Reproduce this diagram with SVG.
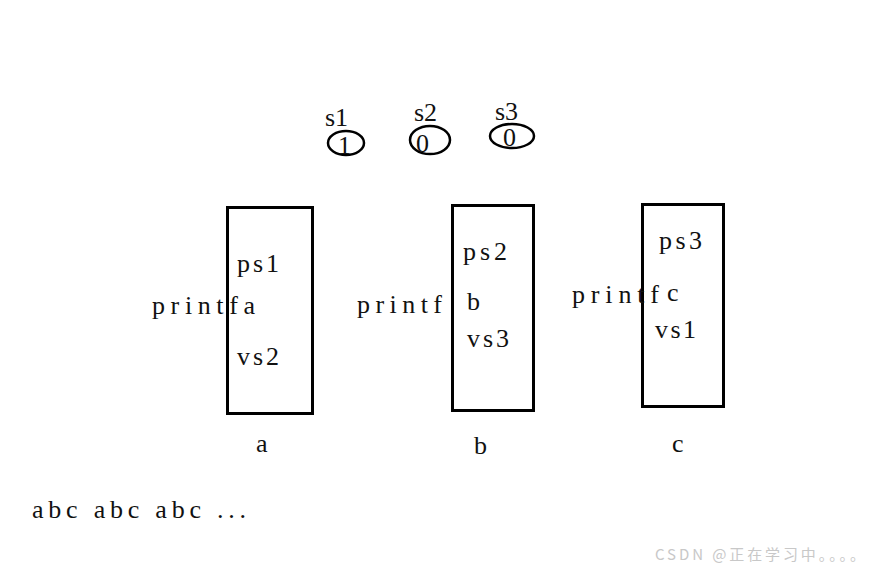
<svg xmlns="http://www.w3.org/2000/svg" width="875" height="570" viewBox="0 0 875 570">
<style>
.t{font-family:"Liberation Serif","DejaVu Serif",serif;font-size:26px;fill:#111}
.box{fill:none;stroke:#000;stroke-width:3}
.ell{fill:none;stroke:#000;stroke-width:2.5}
.wm{font-family:"Noto Sans CJK SC","Noto Sans",sans-serif;font-size:15px;fill:#c8c8c8}
</style>
<rect width="875" height="570" fill="#fff"/>
<g id="sem1">
<text class="t" x="325" y="126">s1</text>
<ellipse class="ell" cx="346" cy="143" rx="18" ry="12"/>
<text class="t" x="338" y="154">1</text>
</g>
<g id="sem2">
<text class="t" x="414" y="121">s2</text>
<ellipse class="ell" cx="430" cy="140" rx="20" ry="14"/>
<text class="t" x="416" y="152">0</text>
</g>
<g id="sem3">
<text class="t" x="495" y="120">s3</text>
<ellipse class="ell" cx="512" cy="136" rx="22" ry="12"/>
<text class="t" x="503" y="146">0</text>
</g>
<g id="threadA">
<rect class="box" x="227.5" y="207.5" width="85" height="206"/>
<text class="t" x="237" y="272" textLength="42" lengthAdjust="spacing">ps1</text>
<text class="t" x="152" y="314" textLength="103" lengthAdjust="spacing">printfa</text>
<text class="t" x="237" y="365" textLength="42" lengthAdjust="spacing">vs2</text>
<text class="t" x="256" y="452">a</text>
</g>
<g id="threadB">
<rect class="box" x="452.5" y="205.5" width="81" height="205"/>
<text class="t" x="463" y="260" textLength="44" lengthAdjust="spacing">ps2</text>
<text class="t" x="357" y="313" textLength="85" lengthAdjust="spacing">printf</text>
<text class="t" x="467" y="310">b</text>
<text class="t" x="467" y="347" textLength="42" lengthAdjust="spacing">vs3</text>
<text class="t" x="474" y="454">b</text>
</g>
<g id="threadC">
<rect class="box" x="642.5" y="204.5" width="81" height="202"/>
<text class="t" x="659" y="249" textLength="43" lengthAdjust="spacing">ps3</text>
<text class="t" x="572" y="303" textLength="87" lengthAdjust="spacing">printf</text>
<text class="t" x="667" y="301">c</text>
<text class="t" x="655" y="338" textLength="41" lengthAdjust="spacing">vs1</text>
<text class="t" x="672" y="452">c</text>
</g>
<g id="connectors"></g>
<text class="t" x="32" y="518" textLength="214" lengthAdjust="spacing">abc abc abc ...</text>
<text class="wm" x="655" y="560" textLength="210" lengthAdjust="spacing">CSDN @正在学习中。。。。</text>
</svg>
